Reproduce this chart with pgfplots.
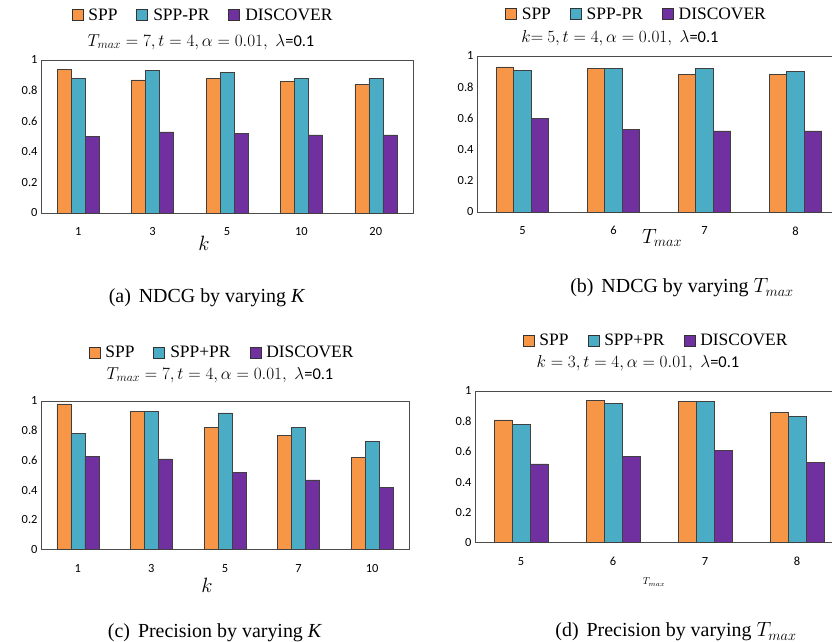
\documentclass[border=0pt]{standalone}
\usepackage{fontspec}
\setmainfont{Liberation Serif}
\newfontfamily\calibri{Carlito}
\usepackage{pgfplots}
\pgfplotsset{compat=1.18}
\definecolor{cOr}{HTML}{F79646}
\definecolor{cTe}{HTML}{4BACC6}
\definecolor{cPu}{HTML}{7030A0}
\pgfplotsset{
  panel/.style={
    scale only axis, ybar=0pt, ymin=0, ymax=1,
    ytick={0,0.2,0.4,0.6,0.8,1}, yticklabels={0,0.2,0.4,0.6,0.8,1},
    xtick=data, major tick length=0pt,
    axis line style={draw=black!70, line width=0.9bp},
    /pgf/number format/assume math mode=true,
    tick label style={font=\calibri\fontsize{12.5}{14}\selectfont},
    xticklabel style={yshift=-11bp},
    legend columns=3,
    legend style={draw=none, fill=none, font=\rmfamily\fontsize{17.5}{20}\selectfont, inner sep=0pt,
      /tikz/every odd column/.append style={column sep=3bp},
      /tikz/every even column/.append style={column sep=17bp}},
    legend image code/.code={\draw[##1, draw=black!80, line width=0.8bp] (0bp,-5.5bp) rectangle (11bp,5.5bp);},
    every axis plot/.append style={draw=black!75, line width=0.6bp},
    clip=false,
  },
}
\begin{document}
\begin{tikzpicture}[x=1bp,y=1bp]
\path[use as bounding box] (0,0) rectangle (832,642);
% (a)
\begin{axis}[panel, at={(41bp,429bp)}, anchor=south west, width=372bp, height=153bp,
  xmin=-0.5, xmax=4.5, bar width=14bp, xticklabels={1,3,5,10,20},
  legend style={at={(0.4355,1.294)},anchor=center}]
\addplot[fill=cOr] coordinates {(0,0.94)(1,0.87)(2,0.88)(3,0.86)(4,0.84)};
\addplot[fill=cTe] coordinates {(0,0.88)(1,0.93)(2,0.92)(3,0.88)(4,0.88)};
\addplot[fill=cPu] coordinates {(0,0.50)(1,0.53)(2,0.52)(3,0.51)(4,0.51)};
\legend{SPP,SPP-PR,DISCOVER}
\end{axis}
% (b)
\begin{axis}[panel, at={(477bp,430bp)}, anchor=south west, width=364bp, height=156bp,
  xmin=-0.5, xmax=3.5, bar width=17.5bp, xticklabels={5,6,7,8},
  legend style={at={(0.438,1.269)},anchor=center}]
\addplot[fill=cOr] coordinates {(0,0.93)(1,0.92)(2,0.88)(3,0.88)};
\addplot[fill=cTe] coordinates {(0,0.91)(1,0.92)(2,0.92)(3,0.90)};
\addplot[fill=cPu] coordinates {(0,0.60)(1,0.53)(2,0.52)(3,0.52)};
\legend{SPP,SPP-PR,DISCOVER}
\end{axis}
% (c)
\begin{axis}[panel, at={(41bp,92.3bp)}, anchor=south west, width=368bp, height=148.7bp,
  xmin=-0.5, xmax=4.5, bar width=14bp, xticklabels={1,3,5,7,10},
  legend style={at={(0.492,1.323)},anchor=center}]
\addplot[fill=cOr] coordinates {(0,0.98)(1,0.93)(2,0.82)(3,0.77)(4,0.62)};
\addplot[fill=cTe] coordinates {(0,0.78)(1,0.93)(2,0.92)(3,0.82)(4,0.73)};
\addplot[fill=cPu] coordinates {(0,0.63)(1,0.61)(2,0.52)(3,0.47)(4,0.42)};
\legend{SPP,SPP+PR,DISCOVER}
\end{axis}
% (d)
\begin{axis}[panel, at={(475bp,99.3bp)}, anchor=south west, width=368bp, height=151.7bp,
  xmin=-0.5, xmax=3.5, bar width=18bp, xticklabels={5,6,7,8},
  legend style={at={(0.492,1.33)},anchor=center}]
\addplot[fill=cOr] coordinates {(0,0.81)(1,0.94)(2,0.93)(3,0.86)};
\addplot[fill=cTe] coordinates {(0,0.78)(1,0.92)(2,0.93)(3,0.83)};
\addplot[fill=cPu] coordinates {(0,0.52)(1,0.57)(2,0.61)(3,0.53)};
\legend{SPP,SPP+PR,DISCOVER}
\end{axis}
% subtitles
\node[font=\fontsize{16.5}{18}\selectfont] at (201,600) {$T_{max} = 7, t = 4, \alpha = 0.01,\;\lambda${\calibri=0.1}};
\node[font=\fontsize{16.5}{18}\selectfont] at (620,604) {$k{=}\ 5, t = 4, \alpha = 0.01,\;\lambda${\calibri=0.1}};
\node[font=\fontsize{16.5}{18}\selectfont] at (220,267) {$T_{max} = 7, t = 4, \alpha = 0.01,\;\lambda${\calibri=0.1}};
\node[font=\fontsize{16.5}{18}\selectfont] at (638,279) {$k = 3, t = 4, \alpha = 0.01,\;\lambda${\calibri=0.1}};
% axis labels
\node[font=\fontsize{20}{22}\selectfont] at (204,399) {$k$};
\node[font=\fontsize{20}{22}\selectfont] at (662,404) {$T_{max}$};
\node[font=\fontsize{20}{22}\selectfont] at (207,57) {$k$};
\node[font=\fontsize{10}{12}\selectfont] at (654,60) {$T_{max}$};
% captions
\node[font=\fontsize{20}{22}\selectfont, anchor=base] at (207,339) {(a)\hspace{0.4em}NDCG by varying \textit{K}};
\node[font=\fontsize{20}{22}\selectfont, anchor=base] at (682,349) {(b)\hspace{0.4em}NDCG by varying $T_{max}$};
\node[font=\fontsize{20}{22}\selectfont, anchor=base] at (215,4) {(c)\hspace{0.4em}Precision by varying \textit{K}};
\node[font=\fontsize{20}{22}\selectfont, anchor=base] at (676,5) {(d)\hspace{0.4em}Precision by varying $T_{max}$};
\end{tikzpicture}
\end{document}
